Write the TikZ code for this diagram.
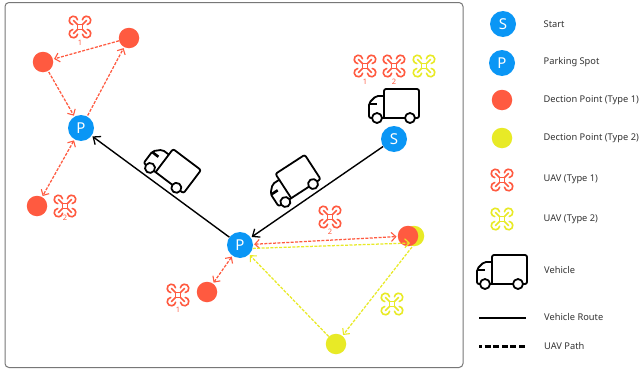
\documentclass[tikz,border=0pt]{standalone}
\usepackage{fontspec}
\setmainfont{Noto Sans}
\usetikzlibrary{arrows.meta}
\definecolor{cblue}{HTML}{0A96F5}
\definecolor{cred}{HTML}{FF5A40}
\definecolor{cyel}{HTML}{E8EA26}
\definecolor{cframe}{HTML}{777777}
\definecolor{ctext}{HTML}{333333}
\tikzset{
  bluedot/.style={circle,fill=cblue,draw=none,minimum size=26pt,inner sep=0pt,text=white,font=\fontsize{15}{15}\selectfont},
  reddot/.style={circle,fill=cred,draw=none,minimum size=20.5pt,inner sep=0pt},
  yeldot/.style={circle,fill=cyel,draw=none,minimum size=20.5pt,inner sep=0pt},
  legendtext/.style={anchor=west,inner sep=0pt,text=ctext,font=\fontsize{9.3}{11}\selectfont},
  numlabel/.style={inner sep=0pt,text=cred,font=\fontsize{7.5}{8}\selectfont\bfseries},
  vroute/.style={draw=black,line width=1.4pt,-{Straight Barb[length=6pt,width=10pt,line width=1.3pt]}},
  redpath/.style={draw=cred,line width=1.25pt,dash pattern=on 3pt off 1.4pt},
  yelpath/.style={draw=cyel,line width=1.25pt,dash pattern=on 3pt off 1.4pt},
  tipa/.style={-{Straight Barb[length=4.5pt,width=9pt,line width=1.1pt]}},
  tipb/.style={{Straight Barb[length=4.5pt,width=9pt,line width=1.1pt]}-{Straight Barb[length=4.5pt,width=9pt,line width=1.1pt]}},
  pics/uav/.style={code={
    \begin{scope}[scale=1.2,line width=1.6pt,line cap=round,line join=round]
      \draw[#1] (-2,-2) rectangle (2,2);
      \foreach \r in {0,90,180,270}{
        \begin{scope}[rotate=\r]
          \draw[#1] (-2,-2) -- (-5.5,-5.5);
          \draw[#1] (-2.04,-6) arc[start angle=-8.2,end angle=-261.8,radius=3.5];
        \end{scope}
      }
    \end{scope}
  }},
  pics/truck/.style={code={
    \begin{scope}[line width=1.8pt,line cap=round,line join=round]
      \draw[rounded corners=2pt] (-10,14) -- (-10,-15) -- (25,-15) -- (25,14) -- (21,14);
      \draw (11,14) -- (-12,14);
      \draw[rounded corners=2pt] (-22,14) -- (-25,14) -- (-25,-1) -- (-18,-8) -- (-10,-8);
      \draw[line width=2.6pt,line cap=butt] (-25,0) -- (-17,0);
      \draw (-17,14) circle[radius=5];
      \draw (16,14) circle[radius=5];
    \end{scope}
  }}
}
\begin{document}
\begin{tikzpicture}[x=1pt,y=-1pt]
\useasboundingbox (0,0) rectangle (641,375);
\fill[white] (0,0) rectangle (641,375);
\draw[cframe,line width=1pt,rounded corners=4pt] (5,2.5) rectangle (463,367.5);

% points
\node[bluedot] (P1) at (81,128) {P};
\node[reddot] (A) at (43,62) {};
\node[reddot] (B) at (129,38) {};
\node[reddot] (C) at (37,206) {};
\node[bluedot] (S) at (394,139) {S};
\node[bluedot] (P2) at (240,245) {P};
\node[reddot] (D) at (207,292) {};
\node[yeldot] (F) at (414,236) {};
\node[reddot] (E) at (408,236) {};
\node[yeldot] (G) at (336,344) {};

% vehicle route
\draw[vroute,shorten >=1pt] (S) -- (P2);
\draw[vroute,shorten >=1pt] (P2) -- (P1);

% red UAV paths
\draw[redpath,tipa,shorten >=1pt,shorten <=1pt] (P1) -- (B);
\draw[redpath,tipa,shorten >=1pt] (B) -- (A);
\draw[redpath,tipa,shorten >=1pt,shorten <=1pt] (A) -- (P1);
\draw[redpath,tipb,shorten >=1pt,shorten <=1pt] (P1) -- (C);
\draw[redpath,tipb,shorten >=1pt,shorten <=1pt] (P2) -- (D);
\draw[redpath,tipb,shorten >=1pt,shorten <=1pt] (P2) -- (E);

% yellow UAV paths
\coordinate (Fin) at (410,243);
\coordinate (Fout) at (412,247);
\draw[yelpath,tipa] (P2.-15) -- (Fin);
\draw[yelpath,tipa,shorten >=1pt] (Fout) -- (G);
\draw[yelpath,tipa,shorten >=1pt] (G) -- (P2);

% uav icons
\pic at (80,27) {uav=cred};
\node[numlabel] (l1) at (80,43) {1};
\pic at (65,206) {uav=cred};
\node[numlabel] (l2) at (65,217.5) {2};
\pic at (365,66) {uav=cred};
\node[numlabel] (l3) at (365,82) {1};
\pic at (394,66) {uav=cred};
\node[numlabel] (l4) at (394,82) {2};
\pic at (424,66) {uav=cyel};
\pic at (330,217) {uav=cred};
\node[numlabel] (l5) at (330,232) {2};
\pic at (178,295) {uav=cred};
\node[numlabel] (l6) at (178,310) {1};
\pic at (392,304) {uav=cyel};

% trucks
\pic at (394,104) {truck};
\pic[rotate=33] at (292,181) {truck};
\pic[rotate=-37] at (172,167) {truck};

% legend
\node[bluedot] (LS) at (503,24) {S};
\node[bluedot] (LP) at (502,63) {P};
\node[reddot] (LR) at (502,100) {};
\node[yeldot] (LY) at (502,138) {};
\pic at (502,180) {uav=cred};
\pic at (502,219) {uav=cyel};
\pic at (502,270) {truck};
\coordinate (Ra) at (479,318);
\coordinate (Rb) at (526,318);
\draw[black,line width=2.7pt] (Ra) -- (Rb);
\coordinate (Pa) at (479,346.5);
\coordinate (Pb) at (526,346.5);
\draw[black,line width=2.7pt,dash pattern=on 6pt off 2.6pt,dash phase=3pt] (Pa) -- (Pb);
\node[legendtext] (t1) at (543.5,24) {Start};
\node[legendtext] (t2) at (543.5,62) {Parking Spot};
\node[legendtext] (t3) at (543.5,100) {Dection Point (Type 1)};
\node[legendtext] (t4) at (543.5,138) {Dection Point (Type 2)};
\node[legendtext] (t5) at (543.5,179) {UAV (Type 1)};
\node[legendtext] (t6) at (543.5,219.5) {UAV (Type 2)};
\node[legendtext] (t7) at (544,270) {Vehicle};
\node[legendtext] (t8) at (544,317) {Vehicle Route};
\node[legendtext] (t9) at (544,346.5) {UAV Path};
\end{tikzpicture}
\end{document}
